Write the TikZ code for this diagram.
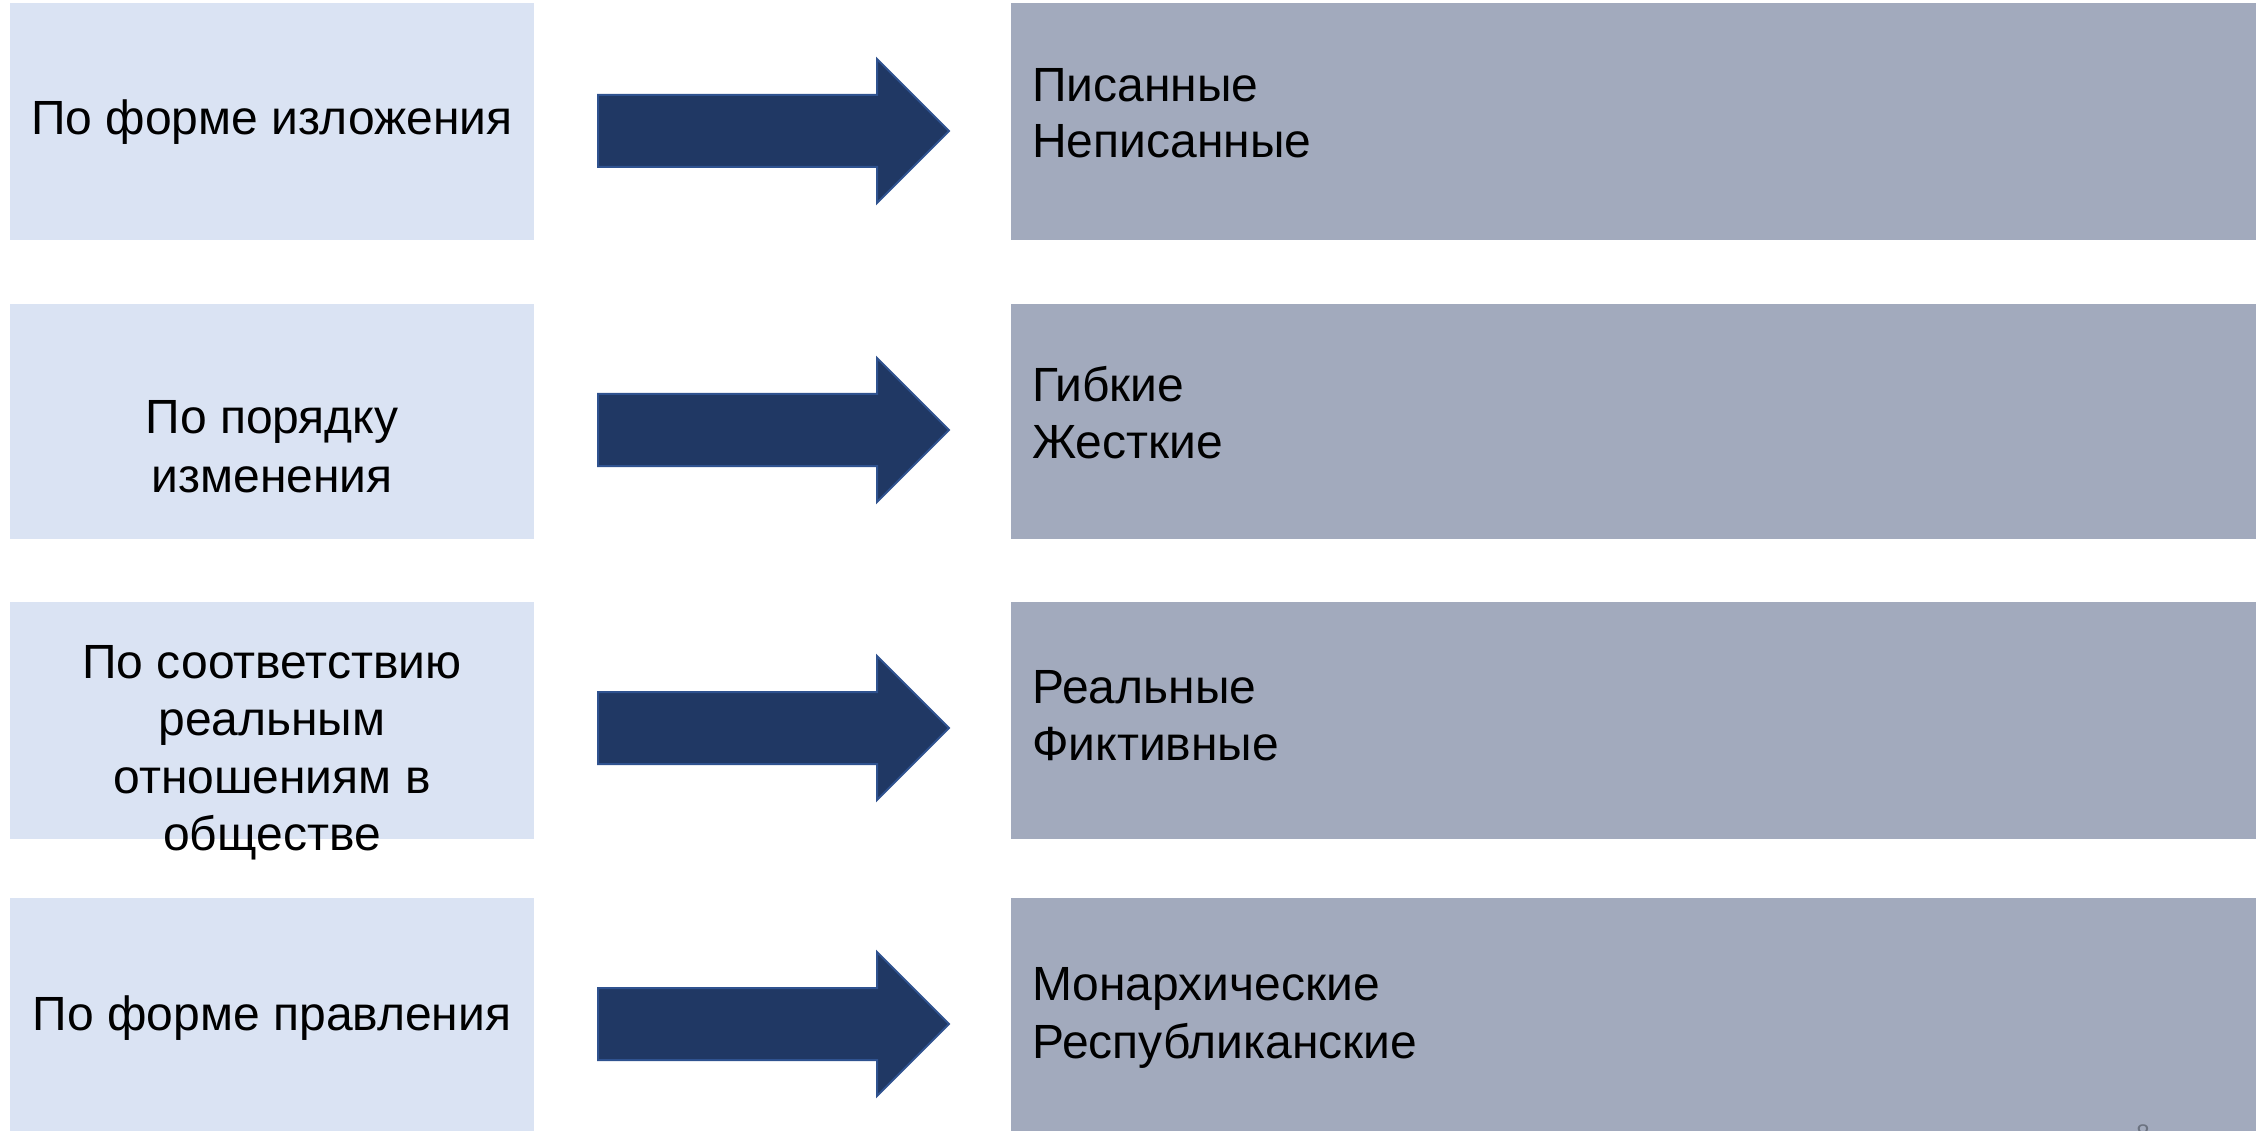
\documentclass[tikz,border=0pt]{standalone}
\usepackage{fontspec}
\setmainfont{Liberation Sans}
\definecolor{lboxc}{HTML}{DAE3F3}
\definecolor{rboxc}{HTML}{A2AABD}
\definecolor{arrfill}{HTML}{203864}
\definecolor{arrdraw}{HTML}{2F528F}
\definecolor{pagenum}{HTML}{6B7280}
\begin{document}
\begin{tikzpicture}[x=1pt,y=-1pt,
  lbox/.style={fill=lboxc, draw=none, inner sep=0, anchor=north west},
  rbox/.style={fill=rboxc, draw=none, inner sep=0, anchor=north west},
  bigarrow/.style={fill=arrfill, draw=arrdraw, line width=2pt, line join=miter},
  txt/.style={inner sep=0, anchor=base, font=\fontsize{48}{57.5}\selectfont},
  ltxt/.style={inner sep=0, anchor=base west, font=\fontsize{48}{57.5}\selectfont}]
\useasboundingbox (0,0) rectangle (2268,1131);
\clip (0,0) rectangle (2268,1131);
% left boxes
\node[lbox, minimum width=524pt, minimum height=237pt] (l1) at (10,3) {};
\node[lbox, minimum width=524pt, minimum height=235pt] (l2) at (10,304) {};
\node[lbox, minimum width=524pt, minimum height=237pt] (l3) at (10,602) {};
\node[lbox, minimum width=524pt, minimum height=240pt] (l4) at (10,898) {};
% right boxes
\node[rbox, minimum width=1245pt, minimum height=237pt] (r1) at (1011,3) {};
\node[rbox, minimum width=1245pt, minimum height=235pt] (r2) at (1011,304) {};
\node[rbox, minimum width=1245pt, minimum height=237pt] (r3) at (1011,602) {};
\node[rbox, minimum width=1245pt, minimum height=240pt] (r4) at (1011,898) {};
% arrows
\foreach \n/\c in {1/131,2/430,3/728,4/1024}{
  \draw[bigarrow] (598,\c-36) -- (877,\c-36) -- (877,\c-72) -- (949,\c) -- (877,\c+72) -- (877,\c+36) -- (598,\c+36) -- cycle;
}
% left texts
\node[txt] (t1) at (272,135) {По форме изложения};
\node[txt] (t2a) at (272,434) {По порядку};
\node[txt] (t2b) at (272,492) {изменения};
\node[txt] (t3a) at (272,678) {По соответствию};
\node[txt] (t3b) at (272,735.5) {реальным};
\node[txt] (t3c) at (272,793) {отношениям в};
\node[txt] (t3d) at (272,850.5) {обществе};
\node[txt] (t4) at (272,1030) {По форме правления};
% right texts
\node[ltxt] (s1a) at (1032,102) {Писанные};
\node[ltxt] (s1b) at (1032,158) {Неписанные};
\node[ltxt] (s2a) at (1032,402) {Гибкие};
\node[ltxt] (s2b) at (1032,458) {Жесткие};
\node[ltxt] (s3a) at (1032,703) {Реальные};
\node[ltxt] (s3b) at (1032,760) {Фиктивные};
\node[ltxt] (s4a) at (1032,1000) {Монархические};
\node[ltxt] (s4b) at (1032,1058) {Республиканские};
% page number fragment
\node[inner sep=0, anchor=base, text=pagenum, font=\fontsize{24}{28}\selectfont] (pg) at (2143,1141) {8};
\end{tikzpicture}
\end{document}
